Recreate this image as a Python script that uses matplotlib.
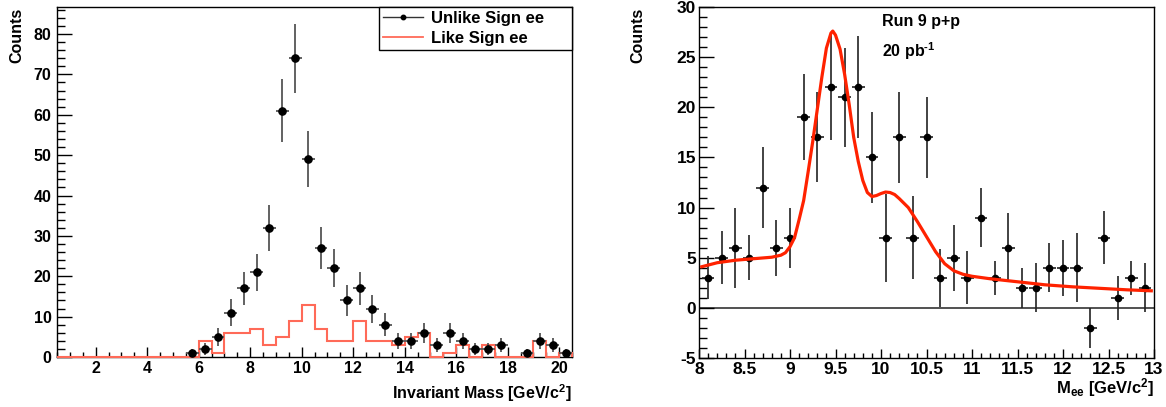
import numpy as np
import matplotlib
matplotlib.use("Agg")
import matplotlib.pyplot as plt
from matplotlib.ticker import MultipleLocator
from matplotlib.lines import Line2D

plt.rcParams['font.family'] = ['Liberation Sans', 'DejaVu Sans']
plt.rcParams['font.weight'] = 'bold'
plt.rcParams['axes.unicode_minus'] = False
plt.rcParams['mathtext.fontset'] = 'custom'
plt.rcParams['mathtext.rm'] = 'Liberation Sans:bold'
plt.rcParams['mathtext.it'] = 'Liberation Sans:bold'
plt.rcParams['mathtext.bf'] = 'Liberation Sans:bold'
plt.rcParams['mathtext.default'] = 'rm'

# ---- left panel: invariant mass, 0.5 GeV bins from 0.5 to 20.5
mass_lo, mass_hi, mass_bw = 0.5, 20.5, 0.5
unlike_counts = [0, 0, 0, 0, 0, 0, 0, 0, 0, 0,
                 1, 2, 5, 11, 17, 21, 32, 61, 74, 49,
                 27, 22, 14, 17, 12, 8, 4, 4, 6, 3,
                 6, 4, 2, 2, 3, 0, 1, 4, 3, 1]
like_counts = [0, 0, 0, 0, 0, 0, 0, 0, 0, 0,
               0, 4, 1, 6, 6, 7, 3, 5, 9, 13,
               7, 4, 4, 9, 4, 4, 3, 5, 6, 0,
               1, 3, 0, 3, 0, 0, 0, 4, 0, 1]

# ---- right panel: Run 9 p+p, M_ee
mee = [8.10, 8.25, 8.40, 8.55, 8.70, 8.85, 9.00, 9.15, 9.30, 9.45, 9.60,
       9.75, 9.90, 10.05, 10.20, 10.35, 10.50, 10.65, 10.80, 10.95, 11.10,
       11.25, 11.40, 11.55, 11.70, 11.85, 12.00, 12.15, 12.30, 12.45, 12.60,
       12.75, 12.90]
mee_counts = [3, 5, 6, 5, 12, 6, 7, 19, 17, 22, 21,
              22, 15, 7, 17, 7, 17, 3, 5, 3, 9,
              3, 6, 2, 2, 4, 4, 4, -2, 7, 1,
              3, 2]
mee_err = [2.15, 2.65, 4.0, 2.25, 4.0, 2.8, 3.0, 4.3, 4.5, 5.3, 4.95,
           5.1, 4.5, 4.4, 4.55, 4.15, 4.05, 2.9, 3.3, 2.65, 2.95,
           1.7, 3.45, 2.0, 2.45, 2.45, 2.8, 3.45, 2.0, 2.65, 2.2,
           1.7, 2.45]

# fit curve
fit_x = [8.03, 8.2, 8.4, 8.6, 8.8, 8.9, 8.95, 9.0, 9.05, 9.1, 9.15, 9.2,
         9.25, 9.3, 9.35, 9.4, 9.45, 9.47, 9.5, 9.55, 9.6, 9.65, 9.7, 9.75,
         9.8, 9.85, 9.9, 9.95, 10.0, 10.05, 10.1, 10.15, 10.2, 10.3, 10.4,
         10.5, 10.6, 10.7, 10.8, 10.9, 11.0, 11.2, 11.5, 11.8, 12.1, 12.4,
         12.7, 12.97]
fit_y = [4.1, 4.5, 4.75, 4.9, 5.05, 5.25, 5.5, 6.1, 7.0, 8.8, 10.7, 13.6,
         16.6, 19.8, 23.0, 25.9, 27.4, 27.6, 27.2, 25.8, 23.3, 20.3, 17.0, 14.6,
         12.7, 11.5, 11.1, 11.2, 11.4, 11.55, 11.5, 11.3, 10.9, 10.0, 8.6,
         7.1, 5.6, 4.4, 3.7, 3.35, 3.15, 2.9, 2.6, 2.3, 2.1, 1.95,
         1.8, 1.7]

red_hist = '#ff6a58'
red_fit = '#ff2200'
W, H = 1166, 407

fig = plt.figure(figsize=(11.66, 4.07), dpi=100)
ax0 = fig.add_axes([57 / W, 1 - 357 / H, 515 / W, 350 / H])
ax1 = fig.add_axes([699 / W, 1 - 358 / H, 455 / W, 351 / H])

for ax in (ax0, ax1):
    for s in ax.spines.values():
        s.set_linewidth(1.0)
    ax.tick_params(which='both', direction='in', top=False, right=False, width=1.0)


def place_labels(ax, xlab_right, xlab_base, ylab_x, ylab_top):
    # ROOT style: titles flush with the end of the axis
    ax.xaxis.set_label_coords(xlab_right / W, 1 - xlab_base / H, transform=fig.transFigure)
    ax.xaxis.label.set_horizontalalignment('right')
    ax.xaxis.label.set_verticalalignment('baseline')
    ax.yaxis.set_label_coords(ylab_x / W, 1 - ylab_top / H, transform=fig.transFigure)
    ax.yaxis.label.set_horizontalalignment('right')
    ax.yaxis.label.set_verticalalignment('center')


# left panel
edges = np.arange(mass_lo, mass_hi + mass_bw / 2, mass_bw)
centers = edges[:-1] + mass_bw / 2
unlike = np.array(unlike_counts, dtype=float)
nz = unlike > 0
ax0.stairs(like_counts, edges, color=red_hist, lw=1.5, zorder=3, clip_on=False)
ax0.errorbar(centers[nz], unlike[nz], yerr=np.sqrt(unlike[nz]), xerr=mass_bw / 2,
             fmt='o', color='black', ms=5.2, ecolor='#555555', elinewidth=1.3,
             capsize=0, zorder=4)
ax0.set_xlim(mass_lo, mass_hi)
ax0.set_ylim(0, 86.7)
ax0.xaxis.set_major_locator(MultipleLocator(2))
ax0.xaxis.set_minor_locator(MultipleLocator(0.5))
ax0.yaxis.set_major_locator(MultipleLocator(10))
ax0.yaxis.set_minor_locator(MultipleLocator(2))
ax0.tick_params(axis='x', which='major', length=7, labelsize=11.5, pad=3)
ax0.tick_params(axis='x', which='minor', length=3.6)
ax0.tick_params(axis='y', which='major', length=11, labelsize=11.5, pad=4)
ax0.tick_params(axis='y', which='minor', length=5.4)
ax0.set_xlabel('Invariant Mass [GeV/c$^{2}$]', fontsize=11.5, fontweight='bold')
ax0.set_ylabel('Counts', fontsize=11.5, fontweight='bold')
place_labels(ax0, 572, 399, 17, 8)

handles = [Line2D([], [], color='#333333', lw=1.0, marker='o', ms=3.2, mfc='black', mec='black'),
           Line2D([], [], color=red_hist, lw=1.3)]
leg = ax0.legend(handles, ['Unlike Sign ee', 'Like Sign ee'], loc='upper left',
                 bbox_to_anchor=(0.625, 0.0, 0.375, 1.0), mode='expand',
                 borderaxespad=0, fancybox=False, framealpha=1, edgecolor='black',
                 handlelength=2.4, handletextpad=0.45, borderpad=0.25,
                 labelspacing=0.3, prop={'size': 12, 'weight': 'bold'})
leg.get_frame().set_linewidth(1.0)

# right panel
ax1.axhline(0, color='#333333', lw=1.2, zorder=1)
ax1.errorbar(mee, mee_counts, yerr=mee_err, xerr=0.07, fmt='o', color='black',
             ms=4.5, ecolor='#222222', elinewidth=1.2, capsize=0, zorder=3)
ax1.plot(fit_x, fit_y, color=red_fit, lw=2.3, zorder=4)
ax1.set_xlim(8, 13)
ax1.set_ylim(-5, 30)
ax1.xaxis.set_major_locator(MultipleLocator(0.5))
ax1.xaxis.set_minor_locator(MultipleLocator(0.1))
ax1.yaxis.set_major_locator(MultipleLocator(5))
ax1.yaxis.set_minor_locator(MultipleLocator(1))
ax1.xaxis.set_major_formatter(plt.FuncFormatter(lambda v, p: ('%g' % v)))
ax1.tick_params(axis='x', which='major', length=6.7, labelsize=12.5, pad=3)
ax1.tick_params(axis='x', which='minor', length=3.6)
ax1.tick_params(axis='y', which='major', length=11, labelsize=12.5, pad=2)
ax1.tick_params(axis='y', which='minor', length=5.5)
ax1.set_xlabel('M$_{ee}$ [GeV/c$^{2}$]', fontsize=12, fontweight='bold')
ax1.set_ylabel('Counts', fontsize=11.5, fontweight='bold')
place_labels(ax1, 1154, 393, 637.5, 8)
ax1.text(0.4015, 0.959, 'Run 9 p+p', transform=ax1.transAxes, fontsize=11.5,
         fontweight='bold', va='center', ha='left')
ax1.text(0.4015, 0.873, '20 pb$^{\u2010 1}$', transform=ax1.transAxes, fontsize=11.5,
         fontweight='bold', va='center', ha='left')

fig.savefig('out.png', dpi=100)
plt.close(fig)
